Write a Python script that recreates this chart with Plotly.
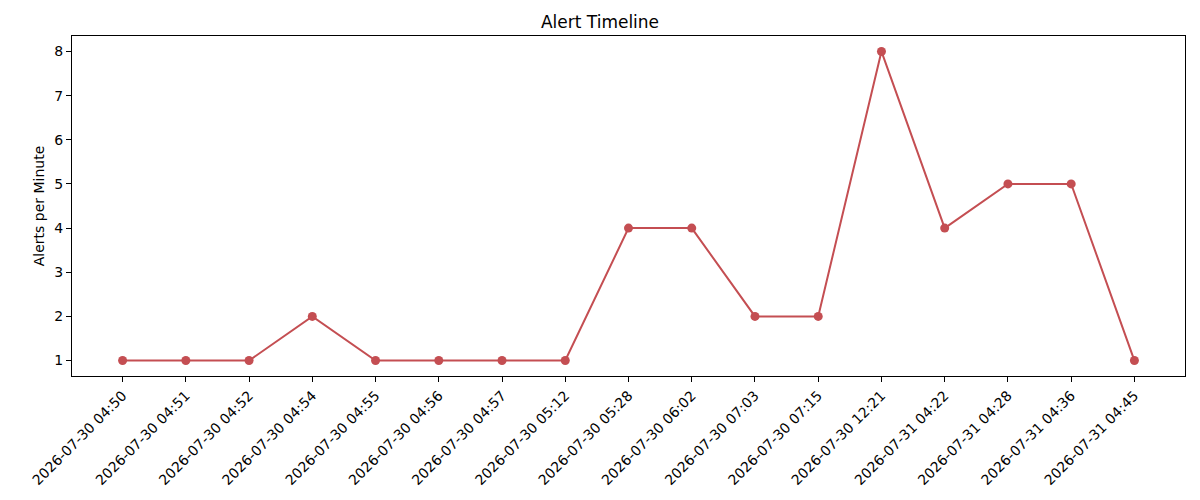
import plotly.graph_objects as go

# alert counts per minute bucket
timestamps = ['2026-07-30 04:50', '2026-07-30 04:51', '2026-07-30 04:52', '2026-07-30 04:54',
              '2026-07-30 04:55', '2026-07-30 04:56', '2026-07-30 04:57', '2026-07-30 05:12',
              '2026-07-30 05:28', '2026-07-30 06:02', '2026-07-30 07:03', '2026-07-30 07:15',
              '2026-07-30 12:21', '2026-07-31 04:22', '2026-07-31 04:28', '2026-07-31 04:36',
              '2026-07-31 04:45']
alerts = [1, 1, 1, 2, 1, 1, 1, 1, 4, 4, 2, 2, 8, 4, 5, 5, 1]

fig = go.Figure()
fig.add_trace(go.Scatter(x=list(range(len(timestamps))), y=alerts, mode='lines+markers',
                         line=dict(color='#c44e52', width=2),
                         marker=dict(color='#c44e52', size=9)))

axis_style = dict(showline=True, linecolor='black', linewidth=1, mirror=True,
                  ticks='outside', ticklen=5, tickcolor='black', showgrid=False,
                  zeroline=False, tickfont=dict(size=14, color='black'))

fig.update_layout(
    width=1200, height=500,
    title=dict(text='Alert Timeline', x=0.5, xanchor='center', y=0.955, yanchor='middle',
               font=dict(size=17, color='black')),
    font=dict(family='DejaVu Sans', color='black'),
    plot_bgcolor='white', paper_bgcolor='white',
    margin=dict(l=72, r=15, t=36, b=124),
    showlegend=False,
)
fig.update_xaxes(**axis_style, tickmode='array', tickvals=list(range(len(timestamps))),
                 ticktext=timestamps, tickangle=-45, range=[-0.8, len(timestamps) - 0.2])
fig.update_yaxes(**axis_style, range=[0.65, 8.35], dtick=1,
                 title=dict(text='Alerts per Minute', font=dict(size=14), standoff=6))

# drop the default page margin so the figure sits at the window corner
fig.write_html("out.html", config={'displayModeBar': False},
               post_script="document.body.style.margin='0';")
